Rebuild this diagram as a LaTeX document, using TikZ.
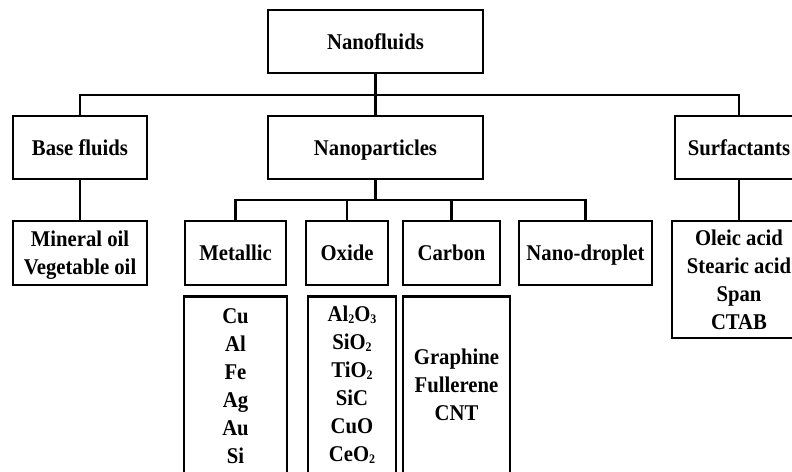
\documentclass[tikz,border=0pt]{standalone}
\usepackage{fontspec}
\setmainfont{Liberation Serif}[FakeStretch=0.92]
\begin{document}
\begin{tikzpicture}[x=1pt,y=-1pt,
  box/.style={draw=black, line width=2.6pt, fill=white, inner sep=0pt,
    font=\fontsize{22.5}{28}\selectfont\bfseries, align=center},
  oneline/.style={text height=17pt, text depth=2pt},
  txt/.style={inner sep=0pt, font=\fontsize{22.5}{28}\selectfont\bfseries, align=center},
  link/.style={draw=black, line width=2.4pt}]
\useasboundingbox (0,0) rectangle (792,471);
\clip (0,0) rectangle (792,471);
\newcommand{\sbs}[1]{\raisebox{-0.15ex}{\fontsize{13}{13}\selectfont #1}}
% bus levels
\coordinate (bus) at (0,95);
\coordinate (sub) at (0,200);
% level 0
\node[box, oneline, minimum width=215pt, minimum height=63pt] (nf) at (375.5,41.5) {Nanofluids};
% level 1
\node[box, oneline, minimum width=134pt, minimum height=63pt] (base) at (80,147.5) {Base fluids};
\node[box, oneline, minimum width=215pt, minimum height=63pt] (np) at (375.5,147.5) {Nanoparticles};
\node[box, oneline, minimum width=128pt, minimum height=63pt] (surf) at (739,147.5) {Surfactants};
% level 2
\node[box, minimum width=134pt, minimum height=64pt] (oil) at (80,253) {};
\node[txt] (oiltext) at (80,255) {Mineral oil\\Vegetable oil};
\node[box, oneline, minimum width=101pt, minimum height=64pt] (met) at (235.5,253) {Metallic};
\node[box, oneline, minimum width=82pt, minimum height=64pt] (oxi) at (347,253) {Oxide};
\node[box, oneline, minimum width=97pt, minimum height=64pt] (carb) at (451.5,253) {Carbon};
\node[box, oneline, minimum width=133pt, minimum height=64pt] (drop) at (585.5,253) {Nano-droplet};
\node[box, minimum width=134pt, minimum height=117pt] (surfitems) at (739,279.5) {Oleic acid\\Stearic acid\\Span\\CTAB};
% level 3 item boxes (extend past the lower edge)
\node[box, minimum width=103pt, minimum height=200pt, anchor=north] (metitems) at (235.5,295) {};
\node[box, minimum width=88pt, minimum height=200pt, anchor=north] (oxiitems) at (352,295) {};
\node[box, minimum width=107pt, minimum height=200pt, anchor=north] (carbitems) at (456.5,295) {};
\node[txt, anchor=north] (mettext) at (235.5,308) {Cu\\Al\\Fe\\Ag\\Au\\Si};
\node[txt, anchor=north] (oxitext) at (352,306) {Al\sbs{2}O\sbs{3}\\SiO\sbs{2}\\TiO\sbs{2}\\SiC\\CuO\\CeO\sbs{2}};
\node[txt] (carbtext) at (456.5,385) {Graphine\\Fullerene\\CNT};
% connectors
\draw[link] (nf.south) -- (np.north);
\draw[link] (base.north) |- (nf.south |- bus) -| (surf.north);
\draw[link] (base.south) -- (oil.north);
\draw[link] (surf.south) -- (surfitems.north);
\draw[link] (met.north) |- (np.south |- sub) -| (drop.north);
\draw[link] (np.south) -- (np.south |- sub);
\draw[link] (oxi.north) -- (oxi.north |- sub);
\draw[link] (carb.north) -- (carb.north |- sub);
\end{tikzpicture}
\end{document}
